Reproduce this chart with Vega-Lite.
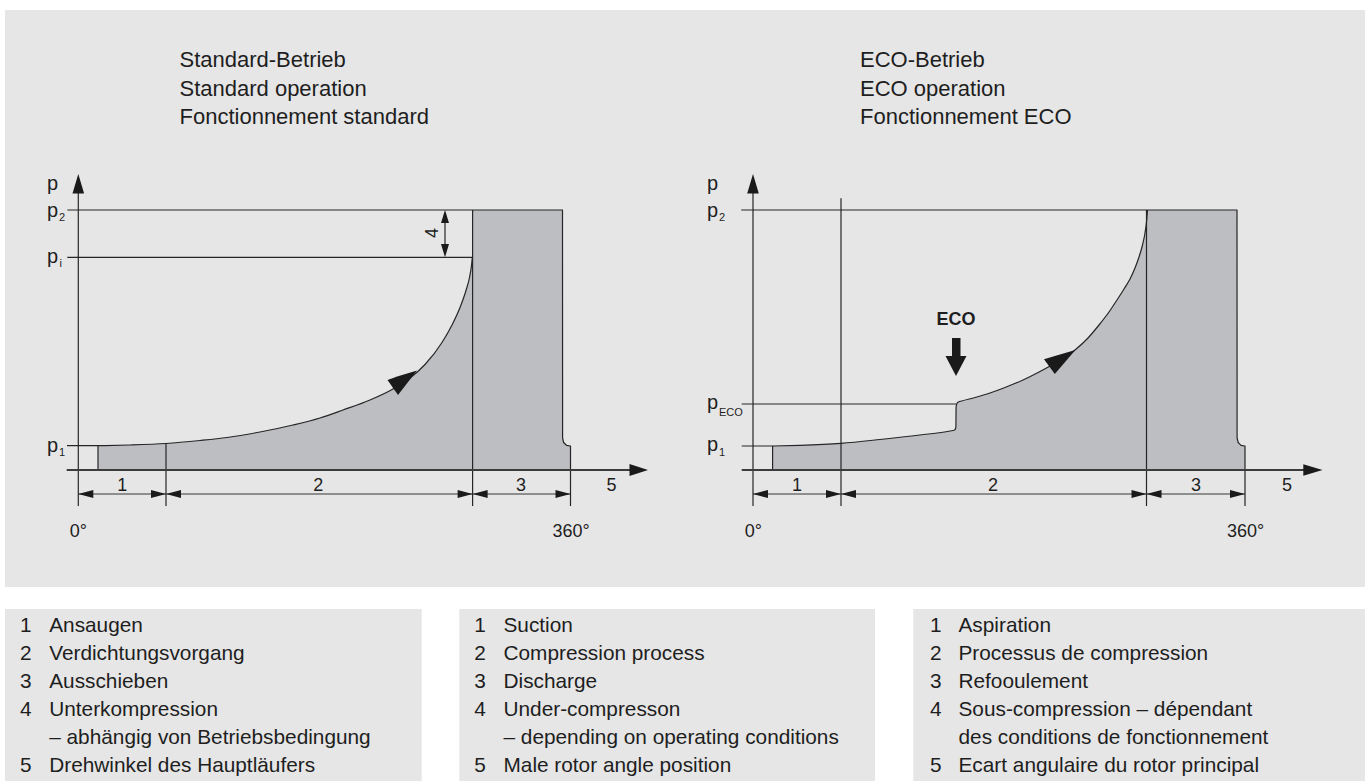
{
  "$schema": "https://vega.github.io/schema/vega-lite/v6.json",
  "autosize": {"type": "fit", "contains": "padding"},
  "width": 1365,
  "height": 781,
  "padding": 0,
  "background": "white",
  "config": {"view": {"stroke": null}},
  "datasets": {
    "bg": [
      {"x": 5, "x2": 1365, "y": 10, "y2": 587},
      {"x": 5, "x2": 421.7, "y": 609, "y2": 781},
      {"x": 459.3, "x2": 875, "y": 609, "y2": 781},
      {"x": 913.3, "x2": 1365, "y": 609, "y2": 781}
    ],
    "fill": [
      {"id": "L", "x": 98, "y": 445.7, "y2": 470},
      {"id": "L", "x": 130, "y": 445, "y2": 470},
      {"id": "L", "x": 166, "y": 443.5, "y2": 470},
      {"id": "L", "x": 200, "y": 440.5, "y2": 470},
      {"id": "L", "x": 227, "y": 437.5, "y2": 470},
      {"id": "L", "x": 260, "y": 432, "y2": 470},
      {"id": "L", "x": 293, "y": 425, "y2": 470},
      {"id": "L", "x": 320, "y": 418, "y2": 470},
      {"id": "L", "x": 343, "y": 410, "y2": 470},
      {"id": "L", "x": 370, "y": 400, "y2": 470},
      {"id": "L", "x": 393, "y": 389, "y2": 470},
      {"id": "L", "x": 410, "y": 378, "y2": 470},
      {"id": "L", "x": 425, "y": 364.5, "y2": 470},
      {"id": "L", "x": 442, "y": 342.5, "y2": 470},
      {"id": "L", "x": 452, "y": 325, "y2": 470},
      {"id": "L", "x": 460, "y": 307.5, "y2": 470},
      {"id": "L", "x": 466, "y": 290.5, "y2": 470},
      {"id": "L", "x": 469.5, "y": 277.5, "y2": 470},
      {"id": "L", "x": 471.5, "y": 265.5, "y2": 470},
      {"id": "L", "x": 472.3, "y": 257.3, "y2": 470},
      {"id": "L", "x": 472.8, "y": 210, "y2": 470},
      {"id": "L", "x": 562.5, "y": 210, "y2": 470},
      {"id": "L", "x": 562.6, "y": 438, "y2": 470},
      {"id": "L", "x": 563.6, "y": 442.5, "y2": 470},
      {"id": "L", "x": 566.5, "y": 445.3, "y2": 470},
      {"id": "L", "x": 570.5, "y": 446, "y2": 470},
      {"id": "R", "x": 772.6, "y": 446, "y2": 470},
      {"id": "R", "x": 800, "y": 445.3, "y2": 470},
      {"id": "R", "x": 841, "y": 443.3, "y2": 470},
      {"id": "R", "x": 880, "y": 439.5, "y2": 470},
      {"id": "R", "x": 920, "y": 435, "y2": 470},
      {"id": "R", "x": 950, "y": 431, "y2": 470},
      {"id": "R", "x": 954.5, "y": 430, "y2": 470},
      {"id": "R", "x": 955.6, "y": 428.5, "y2": 470},
      {"id": "R", "x": 955.9, "y": 426, "y2": 470},
      {"id": "R", "x": 956.1, "y": 407, "y2": 470},
      {"id": "R", "x": 956.8, "y": 403.8, "y2": 470},
      {"id": "R", "x": 958.5, "y": 402, "y2": 470},
      {"id": "R", "x": 961.7, "y": 401, "y2": 470},
      {"id": "R", "x": 975, "y": 397.5, "y2": 470},
      {"id": "R", "x": 990, "y": 393, "y2": 470},
      {"id": "R", "x": 1005, "y": 387.5, "y2": 470},
      {"id": "R", "x": 1023, "y": 380, "y2": 470},
      {"id": "R", "x": 1040, "y": 371.5, "y2": 470},
      {"id": "R", "x": 1057, "y": 362, "y2": 470},
      {"id": "R", "x": 1075, "y": 350, "y2": 470},
      {"id": "R", "x": 1088, "y": 338, "y2": 470},
      {"id": "R", "x": 1099, "y": 325, "y2": 470},
      {"id": "R", "x": 1109, "y": 312, "y2": 470},
      {"id": "R", "x": 1117, "y": 300, "y2": 470},
      {"id": "R", "x": 1124, "y": 289, "y2": 470},
      {"id": "R", "x": 1130, "y": 279, "y2": 470},
      {"id": "R", "x": 1135, "y": 268, "y2": 470},
      {"id": "R", "x": 1139, "y": 257, "y2": 470},
      {"id": "R", "x": 1142.5, "y": 245, "y2": 470},
      {"id": "R", "x": 1145, "y": 233, "y2": 470},
      {"id": "R", "x": 1146.5, "y": 222, "y2": 470},
      {"id": "R", "x": 1147.3, "y": 213, "y2": 470},
      {"id": "R", "x": 1147.6, "y": 210, "y2": 470},
      {"id": "R", "x": 1237, "y": 210, "y2": 470},
      {"id": "R", "x": 1237.1, "y": 438, "y2": 470},
      {"id": "R", "x": 1238.2, "y": 442.5, "y2": 470},
      {"id": "R", "x": 1241, "y": 445.3, "y2": 470},
      {"id": "R", "x": 1245, "y": 446, "y2": 470}
    ],
    "lines": [
      {"id": "Lp2", "k": "thin", "o": 1, "x": 67.3, "y": 210},
      {"id": "Lp2", "k": "thin", "o": 2, "x": 562.5, "y": 210},
      {"id": "Lp2", "k": "thin", "o": 3, "x": 562.6, "y": 438},
      {"id": "Lp2", "k": "thin", "o": 4, "x": 563.6, "y": 442.5},
      {"id": "Lp2", "k": "thin", "o": 5, "x": 566.5, "y": 445.3},
      {"id": "Lp2", "k": "thin", "o": 6, "x": 570.5, "y": 446},
      {"id": "Lp2", "k": "thin", "o": 7, "x": 570.5, "y": 506},
      {"id": "Lpi", "k": "thin", "o": 1, "x": 67.3, "y": 257.3},
      {"id": "Lpi", "k": "thin", "o": 2, "x": 472.3, "y": 257.3},
      {"id": "Lp1", "k": "thin", "o": 1, "x": 67, "y": 445.7},
      {"id": "Lp1", "k": "thin", "o": 2, "x": 98, "y": 445.7},
      {"id": "Lp1", "k": "thin", "o": 3, "x": 98, "y": 470},
      {"id": "Lyax", "k": "thin", "o": 1, "x": 78.3, "y": 190},
      {"id": "Lyax", "k": "thin", "o": 2, "x": 78.3, "y": 506},
      {"id": "Lv166", "k": "thin", "o": 1, "x": 166, "y": 443.5},
      {"id": "Lv166", "k": "thin", "o": 2, "x": 166, "y": 506},
      {"id": "Lv472", "k": "thin", "o": 1, "x": 472.6, "y": 210},
      {"id": "Lv472", "k": "thin", "o": 2, "x": 472.6, "y": 506},
      {"id": "Ld4", "k": "thin", "o": 1, "x": 445, "y": 220},
      {"id": "Ld4", "k": "thin", "o": 2, "x": 445, "y": 247},
      {"id": "Lc", "k": "curve", "o": 1, "x": 98, "y": 445.7},
      {"id": "Lc", "k": "curve", "o": 2, "x": 130, "y": 445},
      {"id": "Lc", "k": "curve", "o": 3, "x": 166, "y": 443.5},
      {"id": "Lc", "k": "curve", "o": 4, "x": 200, "y": 440.5},
      {"id": "Lc", "k": "curve", "o": 5, "x": 227, "y": 437.5},
      {"id": "Lc", "k": "curve", "o": 6, "x": 260, "y": 432},
      {"id": "Lc", "k": "curve", "o": 7, "x": 293, "y": 425},
      {"id": "Lc", "k": "curve", "o": 8, "x": 320, "y": 418},
      {"id": "Lc", "k": "curve", "o": 9, "x": 343, "y": 410},
      {"id": "Lc", "k": "curve", "o": 10, "x": 370, "y": 400},
      {"id": "Lc", "k": "curve", "o": 11, "x": 393, "y": 389},
      {"id": "Lc", "k": "curve", "o": 12, "x": 410, "y": 378},
      {"id": "Lc", "k": "curve", "o": 13, "x": 425, "y": 364.5},
      {"id": "Lc", "k": "curve", "o": 14, "x": 442, "y": 342.5},
      {"id": "Lc", "k": "curve", "o": 15, "x": 452, "y": 325},
      {"id": "Lc", "k": "curve", "o": 16, "x": 460, "y": 307.5},
      {"id": "Lc", "k": "curve", "o": 17, "x": 466, "y": 290.5},
      {"id": "Lc", "k": "curve", "o": 18, "x": 469.5, "y": 277.5},
      {"id": "Lc", "k": "curve", "o": 19, "x": 471.5, "y": 265.5},
      {"id": "Lc", "k": "curve", "o": 20, "x": 472.3, "y": 257.3},
      {"id": "Rp2", "k": "thin", "o": 1, "x": 741.2, "y": 210},
      {"id": "Rp2", "k": "thin", "o": 2, "x": 1237, "y": 210},
      {"id": "Rp2", "k": "thin", "o": 3, "x": 1237.1, "y": 438},
      {"id": "Rp2", "k": "thin", "o": 4, "x": 1238.2, "y": 442.5},
      {"id": "Rp2", "k": "thin", "o": 5, "x": 1241, "y": 445.3},
      {"id": "Rp2", "k": "thin", "o": 6, "x": 1245, "y": 446},
      {"id": "Rp2", "k": "thin", "o": 7, "x": 1245, "y": 506},
      {"id": "Rpe", "k": "thin", "o": 1, "x": 741.7, "y": 404},
      {"id": "Rpe", "k": "thin", "o": 2, "x": 956, "y": 404},
      {"id": "Rp1", "k": "thin", "o": 1, "x": 741.7, "y": 446},
      {"id": "Rp1", "k": "thin", "o": 2, "x": 772.6, "y": 446},
      {"id": "Rp1", "k": "thin", "o": 3, "x": 772.6, "y": 470},
      {"id": "Ryax", "k": "thin", "o": 1, "x": 753, "y": 190},
      {"id": "Ryax", "k": "thin", "o": 2, "x": 753, "y": 506},
      {"id": "Rv841", "k": "thin", "o": 1, "x": 841, "y": 198.3},
      {"id": "Rv841", "k": "thin", "o": 2, "x": 841, "y": 506},
      {"id": "Rv1146", "k": "thin", "o": 1, "x": 1146.5, "y": 210},
      {"id": "Rv1146", "k": "thin", "o": 2, "x": 1146.5, "y": 506},
      {"id": "Rc", "k": "curve", "o": 1, "x": 772.6, "y": 446},
      {"id": "Rc", "k": "curve", "o": 2, "x": 800, "y": 445.3},
      {"id": "Rc", "k": "curve", "o": 3, "x": 841, "y": 443.3},
      {"id": "Rc", "k": "curve", "o": 4, "x": 880, "y": 439.5},
      {"id": "Rc", "k": "curve", "o": 5, "x": 920, "y": 435},
      {"id": "Rc", "k": "curve", "o": 6, "x": 950, "y": 431},
      {"id": "Rc", "k": "curve", "o": 7, "x": 954.5, "y": 430},
      {"id": "Rc", "k": "curve", "o": 8, "x": 955.6, "y": 428.5},
      {"id": "Rc", "k": "curve", "o": 9, "x": 955.9, "y": 426},
      {"id": "Rc", "k": "curve", "o": 10, "x": 956.1, "y": 407},
      {"id": "Rc", "k": "curve", "o": 11, "x": 956.8, "y": 403.8},
      {"id": "Rc", "k": "curve", "o": 12, "x": 958.5, "y": 402},
      {"id": "Rc", "k": "curve", "o": 13, "x": 961.7, "y": 401},
      {"id": "Rc", "k": "curve", "o": 14, "x": 975, "y": 397.5},
      {"id": "Rc", "k": "curve", "o": 15, "x": 990, "y": 393},
      {"id": "Rc", "k": "curve", "o": 16, "x": 1005, "y": 387.5},
      {"id": "Rc", "k": "curve", "o": 17, "x": 1023, "y": 380},
      {"id": "Rc", "k": "curve", "o": 18, "x": 1040, "y": 371.5},
      {"id": "Rc", "k": "curve", "o": 19, "x": 1057, "y": 362},
      {"id": "Rc", "k": "curve", "o": 20, "x": 1075, "y": 350},
      {"id": "Rc", "k": "curve", "o": 21, "x": 1088, "y": 338},
      {"id": "Rc", "k": "curve", "o": 22, "x": 1099, "y": 325},
      {"id": "Rc", "k": "curve", "o": 23, "x": 1109, "y": 312},
      {"id": "Rc", "k": "curve", "o": 24, "x": 1117, "y": 300},
      {"id": "Rc", "k": "curve", "o": 25, "x": 1124, "y": 289},
      {"id": "Rc", "k": "curve", "o": 26, "x": 1130, "y": 279},
      {"id": "Rc", "k": "curve", "o": 27, "x": 1135, "y": 268},
      {"id": "Rc", "k": "curve", "o": 28, "x": 1139, "y": 257},
      {"id": "Rc", "k": "curve", "o": 29, "x": 1142.5, "y": 245},
      {"id": "Rc", "k": "curve", "o": 30, "x": 1145, "y": 233},
      {"id": "Rc", "k": "curve", "o": 31, "x": 1146.5, "y": 222},
      {"id": "Rc", "k": "curve", "o": 32, "x": 1147.3, "y": 213},
      {"id": "Rc", "k": "curve", "o": 33, "x": 1147.6, "y": 210},
      {"id": "Lxax", "k": "axis", "o": 1, "x": 66.7, "y": 470},
      {"id": "Lxax", "k": "axis", "o": 2, "x": 632, "y": 470},
      {"id": "Rxax", "k": "axis", "o": 1, "x": 741.7, "y": 470},
      {"id": "Rxax", "k": "axis", "o": 2, "x": 1306, "y": 470},
      {"id": "Ldim", "k": "dim", "o": 1, "x": 78.3, "y": 494},
      {"id": "Ldim", "k": "dim", "o": 2, "x": 570.5, "y": 494},
      {"id": "Rdim", "k": "dim", "o": 1, "x": 753, "y": 494},
      {"id": "Rdim", "k": "dim", "o": 2, "x": 1245, "y": 494}
    ],
    "heads": [
      {"id": "hLy", "x": 72.5, "y": 193.5, "y2": 193.5},
      {"id": "hLy", "x": 78.3, "y": 174, "y2": 193.5},
      {"id": "hLy", "x": 84.1, "y": 193.5, "y2": 193.5},
      {"id": "hRy", "x": 747.2, "y": 193.5, "y2": 193.5},
      {"id": "hRy", "x": 753, "y": 174, "y2": 193.5},
      {"id": "hRy", "x": 758.8, "y": 193.5, "y2": 193.5},
      {"id": "hLx", "x": 629.5, "y": 464, "y2": 476},
      {"id": "hLx", "x": 648, "y": 470, "y2": 470},
      {"id": "hRx", "x": 1303.3, "y": 464.3, "y2": 475.7},
      {"id": "hRx", "x": 1322.5, "y": 470, "y2": 470},
      {"id": "hLc", "x": 387.5, "y": 380, "y2": 380},
      {"id": "hLc", "x": 398, "y": 376.3, "y2": 395},
      {"id": "hLc", "x": 417, "y": 370.5, "y2": 370.5},
      {"id": "hRc", "x": 1044, "y": 359.3, "y2": 359.3},
      {"id": "hRc", "x": 1054.8, "y": 356.1, "y2": 374},
      {"id": "hRc", "x": 1075.4, "y": 350, "y2": 350},
      {"id": "h4a", "x": 441, "y": 223, "y2": 223},
      {"id": "h4a", "x": 445, "y": 210, "y2": 223},
      {"id": "h4a", "x": 449, "y": 223, "y2": 223},
      {"id": "h4b", "x": 441, "y": 244, "y2": 244},
      {"id": "h4b", "x": 445, "y": 244, "y2": 257.3},
      {"id": "h4b", "x": 449, "y": 244, "y2": 244},
      {"id": "hEs", "x": 952, "y": 338, "y2": 357},
      {"id": "hEs", "x": 960.5, "y": 338, "y2": 357},
      {"id": "hEh", "x": 945.5, "y": 356, "y2": 356},
      {"id": "hEh", "x": 956, "y": 356, "y2": 376},
      {"id": "hEh", "x": 966.5, "y": 356, "y2": 356},
      {"id": "d1", "x": 78.3, "y": 494, "y2": 494},
      {"id": "d1", "x": 93.3, "y": 490, "y2": 498},
      {"id": "d2", "x": 151, "y": 490, "y2": 498},
      {"id": "d2", "x": 166, "y": 494, "y2": 494},
      {"id": "d3", "x": 166, "y": 494, "y2": 494},
      {"id": "d3", "x": 181, "y": 490, "y2": 498},
      {"id": "d4", "x": 457.6, "y": 490, "y2": 498},
      {"id": "d4", "x": 472.6, "y": 494, "y2": 494},
      {"id": "d5", "x": 472.6, "y": 494, "y2": 494},
      {"id": "d5", "x": 487.6, "y": 490, "y2": 498},
      {"id": "d6", "x": 555.5, "y": 490, "y2": 498},
      {"id": "d6", "x": 570.5, "y": 494, "y2": 494},
      {"id": "d7", "x": 753, "y": 494, "y2": 494},
      {"id": "d7", "x": 768, "y": 490, "y2": 498},
      {"id": "d8", "x": 826, "y": 490, "y2": 498},
      {"id": "d8", "x": 841, "y": 494, "y2": 494},
      {"id": "d9", "x": 841, "y": 494, "y2": 494},
      {"id": "d9", "x": 856, "y": 490, "y2": 498},
      {"id": "d10", "x": 1131.5, "y": 490, "y2": 498},
      {"id": "d10", "x": 1146.5, "y": 494, "y2": 494},
      {"id": "d11", "x": 1146.5, "y": 494, "y2": 494},
      {"id": "d11", "x": 1161.5, "y": 490, "y2": 498},
      {"id": "d12", "x": 1230, "y": 490, "y2": 498},
      {"id": "d12", "x": 1245, "y": 494, "y2": 494}
    ],
    "texts": [
      {"k": "title", "x": 179.5, "y": 67.3, "t": "Standard-Betrieb"},
      {"k": "title", "x": 179.5, "y": 96, "t": "Standard operation"},
      {"k": "title", "x": 179.5, "y": 124.3, "t": "Fonctionnement standard"},
      {"k": "title", "x": 860, "y": 67.3, "t": "ECO-Betrieb"},
      {"k": "title", "x": 860, "y": 96, "t": "ECO operation"},
      {"k": "title", "x": 860, "y": 124.3, "t": "Fonctionnement ECO"},
      {"k": "p", "x": 47, "y": 190, "t": "p"},
      {"k": "p", "x": 47, "y": 217, "t": "p"},
      {"k": "p", "x": 47, "y": 262.7, "t": "p"},
      {"k": "p", "x": 47, "y": 452, "t": "p"},
      {"k": "p", "x": 707, "y": 190, "t": "p"},
      {"k": "p", "x": 707, "y": 217, "t": "p"},
      {"k": "p", "x": 707, "y": 408.7, "t": "p"},
      {"k": "p", "x": 707, "y": 451, "t": "p"},
      {"k": "sub", "x": 59, "y": 220.5, "t": "2"},
      {"k": "sub", "x": 59.5, "y": 267, "t": "i"},
      {"k": "sub", "x": 59, "y": 456, "t": "1"},
      {"k": "sub", "x": 719, "y": 220.5, "t": "2"},
      {"k": "sub", "x": 719, "y": 415.5, "t": "ECO"},
      {"k": "sub", "x": 719, "y": 455.5, "t": "1"},
      {"k": "num", "x": 122.3, "y": 490.7, "t": "1"},
      {"k": "num", "x": 318.3, "y": 490.7, "t": "2"},
      {"k": "num", "x": 521, "y": 490.7, "t": "3"},
      {"k": "num", "x": 611.6, "y": 490.7, "t": "5"},
      {"k": "num", "x": 797, "y": 490.7, "t": "1"},
      {"k": "num", "x": 993, "y": 490.7, "t": "2"},
      {"k": "num", "x": 1196, "y": 490.7, "t": "3"},
      {"k": "num", "x": 1287, "y": 490.7, "t": "5"},
      {"k": "num", "x": 78.3, "y": 536.7, "t": "0°"},
      {"k": "num", "x": 571, "y": 536.7, "t": "360°"},
      {"k": "num", "x": 753.4, "y": 536.7, "t": "0°"},
      {"k": "num", "x": 1245.7, "y": 536.7, "t": "360°"},
      {"k": "rot", "x": 433, "y": 233, "t": "4"},
      {"k": "eco", "x": 956, "y": 325, "t": "ECO"},
      {"k": "lnum", "x": 20, "y": 631.7, "t": "1"},
      {"k": "lnum", "x": 20, "y": 660, "t": "2"},
      {"k": "lnum", "x": 20, "y": 688.3, "t": "3"},
      {"k": "lnum", "x": 20, "y": 716, "t": "4"},
      {"k": "lnum", "x": 20, "y": 772.3, "t": "5"},
      {"k": "ltxt", "x": 49.2, "y": 631.7, "t": "Ansaugen"},
      {"k": "ltxt", "x": 49.2, "y": 660, "t": "Verdichtungsvorgang"},
      {"k": "ltxt", "x": 49.2, "y": 688.3, "t": "Ausschieben"},
      {"k": "ltxt", "x": 49.2, "y": 716, "t": "Unterkompression"},
      {"k": "ltxt", "x": 49.2, "y": 744, "t": "– abhängig von Betriebsbedingung"},
      {"k": "ltxt", "x": 49.2, "y": 772.3, "t": "Drehwinkel des Hauptläufers"},
      {"k": "lnum", "x": 474.3, "y": 631.7, "t": "1"},
      {"k": "lnum", "x": 474.3, "y": 660, "t": "2"},
      {"k": "lnum", "x": 474.3, "y": 688.3, "t": "3"},
      {"k": "lnum", "x": 474.3, "y": 716, "t": "4"},
      {"k": "lnum", "x": 474.3, "y": 772.3, "t": "5"},
      {"k": "ltxt", "x": 503.5, "y": 631.7, "t": "Suction"},
      {"k": "ltxt", "x": 503.5, "y": 660, "t": "Compression process"},
      {"k": "ltxt", "x": 503.5, "y": 688.3, "t": "Discharge"},
      {"k": "ltxt", "x": 503.5, "y": 716, "t": "Under-compresson"},
      {"k": "ltxt", "x": 503.5, "y": 744, "t": "– depending on operating conditions"},
      {"k": "ltxt", "x": 503.5, "y": 772.3, "t": "Male rotor angle position"},
      {"k": "lnum", "x": 930, "y": 631.7, "t": "1"},
      {"k": "lnum", "x": 930, "y": 660, "t": "2"},
      {"k": "lnum", "x": 930, "y": 688.3, "t": "3"},
      {"k": "lnum", "x": 930, "y": 716, "t": "4"},
      {"k": "lnum", "x": 930, "y": 772.3, "t": "5"},
      {"k": "ltxt", "x": 958.5, "y": 631.7, "t": "Aspiration"},
      {"k": "ltxt", "x": 958.5, "y": 660, "t": "Processus de compression"},
      {"k": "ltxt", "x": 958.5, "y": 688.3, "t": "Refooulement"},
      {"k": "ltxt", "x": 958.5, "y": 716, "t": "Sous-compression – dépendant"},
      {"k": "ltxt", "x": 958.5, "y": 744, "t": "des conditions de fonctionnement"},
      {"k": "ltxt", "x": 958.5, "y": 772.3, "t": "Ecart angulaire du rotor principal"}
    ]
  },
  "layer": [
    {
      "data": {"name": "bg"},
      "mark": {"type": "rect", "color": "#e6e6e6"},
      "encoding": {
        "x": {"field": "x", "type": "quantitative", "scale": {"domain": [0, 1365], "nice": false, "zero": false}, "axis": null},
        "y": {"field": "y", "type": "quantitative", "scale": {"domain": [0, 781], "nice": false, "zero": false, "reverse": true}, "axis": null},
        "x2": {"field": "x2"},
        "y2": {"field": "y2"}
      }
    },
    {
      "data": {"name": "fill"},
      "mark": {"type": "area", "color": "#bdbec2", "opacity": 1, "interpolate": "monotone"},
      "encoding": {
        "x": {"field": "x", "type": "quantitative", "scale": {"domain": [0, 1365], "nice": false, "zero": false}, "axis": null},
        "y": {"field": "y", "type": "quantitative", "scale": {"domain": [0, 781], "nice": false, "zero": false, "reverse": true}, "axis": null},
        "y2": {"field": "y2"},
        "detail": {"field": "id", "type": "nominal"}
      }
    },
    {
      "data": {"name": "lines"},
      "transform": [{"filter": "datum.k === 'dim'"}],
      "mark": {"type": "line", "color": "#707070", "strokeWidth": 1.6, "strokeCap": "butt"},
      "encoding": {
        "x": {"field": "x", "type": "quantitative", "scale": {"domain": [0, 1365], "nice": false, "zero": false}, "axis": null},
        "y": {"field": "y", "type": "quantitative", "scale": {"domain": [0, 781], "nice": false, "zero": false, "reverse": true}, "axis": null},
        "detail": {"field": "id", "type": "nominal"},
        "order": {"field": "o", "type": "quantitative"}
      }
    },
    {
      "data": {"name": "lines"},
      "transform": [{"filter": "datum.k === 'thin'"}],
      "mark": {"type": "line", "color": "#262626", "strokeWidth": 1.2, "strokeCap": "butt", "strokeJoin": "round"},
      "encoding": {
        "x": {"field": "x", "type": "quantitative", "scale": {"domain": [0, 1365], "nice": false, "zero": false}, "axis": null},
        "y": {"field": "y", "type": "quantitative", "scale": {"domain": [0, 781], "nice": false, "zero": false, "reverse": true}, "axis": null},
        "detail": {"field": "id", "type": "nominal"},
        "order": {"field": "o", "type": "quantitative"}
      }
    },
    {
      "data": {"name": "lines"},
      "transform": [{"filter": "datum.k === 'curve'"}],
      "mark": {"type": "line", "color": "#262626", "strokeWidth": 1.2, "strokeCap": "butt", "strokeJoin": "round", "interpolate": "monotone"},
      "encoding": {
        "x": {"field": "x", "type": "quantitative", "scale": {"domain": [0, 1365], "nice": false, "zero": false}, "axis": null},
        "y": {"field": "y", "type": "quantitative", "scale": {"domain": [0, 781], "nice": false, "zero": false, "reverse": true}, "axis": null},
        "detail": {"field": "id", "type": "nominal"},
        "order": {"field": "o", "type": "quantitative"}
      }
    },
    {
      "data": {"name": "lines"},
      "transform": [{"filter": "datum.k === 'axis'"}],
      "mark": {"type": "line", "color": "#3c3c3c", "strokeWidth": 2.2, "strokeCap": "butt"},
      "encoding": {
        "x": {"field": "x", "type": "quantitative", "scale": {"domain": [0, 1365], "nice": false, "zero": false}, "axis": null},
        "y": {"field": "y", "type": "quantitative", "scale": {"domain": [0, 781], "nice": false, "zero": false, "reverse": true}, "axis": null},
        "detail": {"field": "id", "type": "nominal"},
        "order": {"field": "o", "type": "quantitative"}
      }
    },
    {
      "data": {"name": "heads"},
      "mark": {"type": "area", "color": "#1a1a1a", "opacity": 1, "interpolate": "linear"},
      "encoding": {
        "x": {"field": "x", "type": "quantitative", "scale": {"domain": [0, 1365], "nice": false, "zero": false}, "axis": null},
        "y": {"field": "y", "type": "quantitative", "scale": {"domain": [0, 781], "nice": false, "zero": false, "reverse": true}, "axis": null},
        "y2": {"field": "y2"},
        "detail": {"field": "id", "type": "nominal"}
      }
    },
    {
      "data": {"name": "texts"},
      "transform": [{"filter": "datum.k === 'title'"}],
      "mark": {"type": "text", "align": "left", "baseline": "alphabetic", "font": "Liberation Sans", "fontSize": 22, "color": "#1e1e1e"},
      "encoding": {
        "x": {"field": "x", "type": "quantitative", "scale": {"domain": [0, 1365], "nice": false, "zero": false}, "axis": null},
        "y": {"field": "y", "type": "quantitative", "scale": {"domain": [0, 781], "nice": false, "zero": false, "reverse": true}, "axis": null},
        "text": {"field": "t"}
      }
    },
    {
      "data": {"name": "texts"},
      "transform": [{"filter": "datum.k === 'p'"}],
      "mark": {"type": "text", "align": "left", "baseline": "alphabetic", "font": "Liberation Sans", "fontSize": 20, "color": "#1e1e1e"},
      "encoding": {
        "x": {"field": "x", "type": "quantitative", "scale": {"domain": [0, 1365], "nice": false, "zero": false}, "axis": null},
        "y": {"field": "y", "type": "quantitative", "scale": {"domain": [0, 781], "nice": false, "zero": false, "reverse": true}, "axis": null},
        "text": {"field": "t"}
      }
    },
    {
      "data": {"name": "texts"},
      "transform": [{"filter": "datum.k === 'sub'"}],
      "mark": {"type": "text", "align": "left", "baseline": "alphabetic", "font": "Liberation Sans", "fontSize": 11, "color": "#1e1e1e"},
      "encoding": {
        "x": {"field": "x", "type": "quantitative", "scale": {"domain": [0, 1365], "nice": false, "zero": false}, "axis": null},
        "y": {"field": "y", "type": "quantitative", "scale": {"domain": [0, 781], "nice": false, "zero": false, "reverse": true}, "axis": null},
        "text": {"field": "t"}
      }
    },
    {
      "data": {"name": "texts"},
      "transform": [{"filter": "datum.k === 'num'"}],
      "mark": {"type": "text", "align": "center", "baseline": "alphabetic", "font": "Liberation Sans", "fontSize": 18, "color": "#1e1e1e"},
      "encoding": {
        "x": {"field": "x", "type": "quantitative", "scale": {"domain": [0, 1365], "nice": false, "zero": false}, "axis": null},
        "y": {"field": "y", "type": "quantitative", "scale": {"domain": [0, 781], "nice": false, "zero": false, "reverse": true}, "axis": null},
        "text": {"field": "t"}
      }
    },
    {
      "data": {"name": "texts"},
      "transform": [{"filter": "datum.k === 'rot'"}],
      "mark": {"type": "text", "align": "center", "baseline": "middle", "angle": 270, "font": "Liberation Sans", "fontSize": 18, "color": "#1e1e1e"},
      "encoding": {
        "x": {"field": "x", "type": "quantitative", "scale": {"domain": [0, 1365], "nice": false, "zero": false}, "axis": null},
        "y": {"field": "y", "type": "quantitative", "scale": {"domain": [0, 781], "nice": false, "zero": false, "reverse": true}, "axis": null},
        "text": {"field": "t"}
      }
    },
    {
      "data": {"name": "texts"},
      "transform": [{"filter": "datum.k === 'eco'"}],
      "mark": {"type": "text", "align": "center", "baseline": "alphabetic", "font": "Liberation Sans", "fontSize": 18, "fontWeight": "bold", "color": "#1e1e1e"},
      "encoding": {
        "x": {"field": "x", "type": "quantitative", "scale": {"domain": [0, 1365], "nice": false, "zero": false}, "axis": null},
        "y": {"field": "y", "type": "quantitative", "scale": {"domain": [0, 781], "nice": false, "zero": false, "reverse": true}, "axis": null},
        "text": {"field": "t"}
      }
    },
    {
      "data": {"name": "texts"},
      "transform": [{"filter": "datum.k === 'lnum' || datum.k === 'ltxt'"}],
      "mark": {"type": "text", "align": "left", "baseline": "alphabetic", "font": "Liberation Sans", "fontSize": 20.8, "color": "#1e1e1e"},
      "encoding": {
        "x": {"field": "x", "type": "quantitative", "scale": {"domain": [0, 1365], "nice": false, "zero": false}, "axis": null},
        "y": {"field": "y", "type": "quantitative", "scale": {"domain": [0, 781], "nice": false, "zero": false, "reverse": true}, "axis": null},
        "text": {"field": "t"}
      }
    }
  ]
}
